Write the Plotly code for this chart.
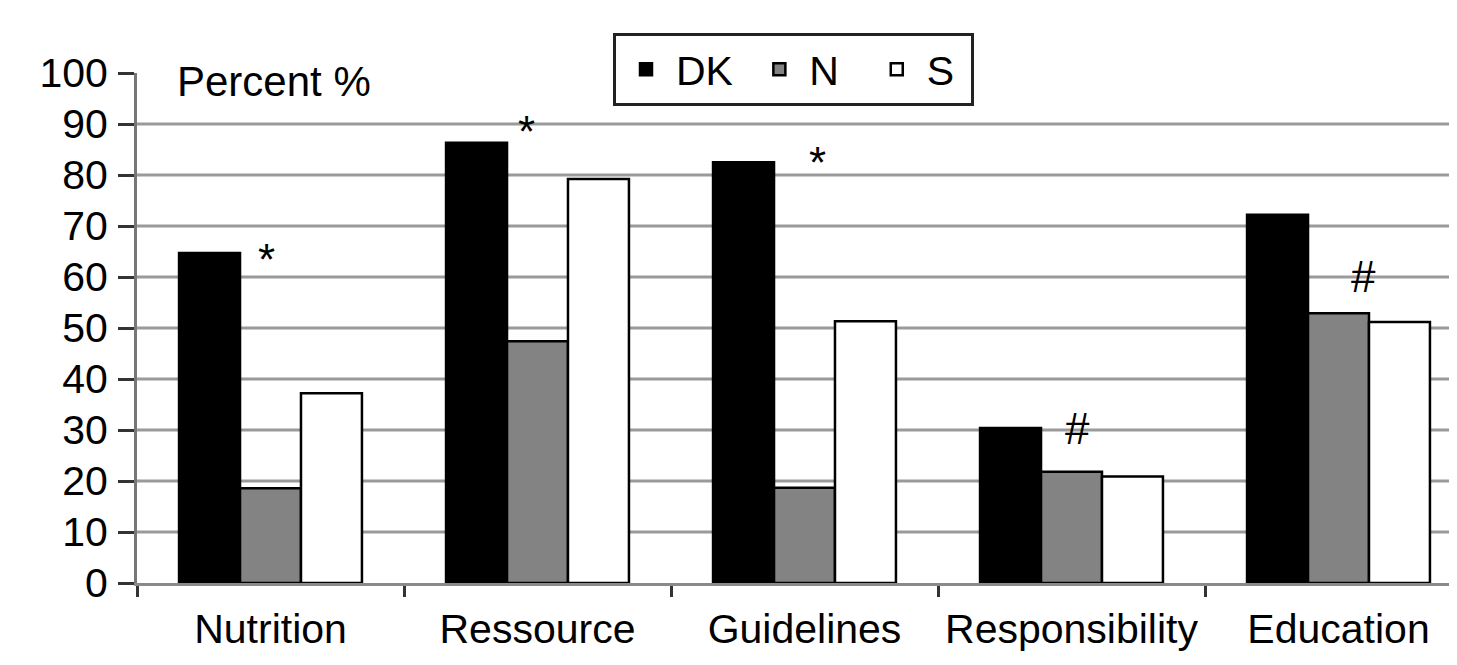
import plotly.graph_objects as go

categories = ["Nutrition", "Ressource", "Guidelines", "Responsibility", "Education"]
series_names = ["DK", "N", "S"]
dk_values = [64.7, 86.3, 82.5, 30.4, 72.2]
n_values = [18.6, 47.4, 18.7, 21.8, 52.9]
s_values = [37.2, 79.2, 51.3, 20.9, 51.2]
y_ticks = [0, 10, 20, 30, 40, 50, 60, 70, 80, 90, 100]
grid_values = [10, 20, 30, 40, 50, 60, 70, 80, 90]

# significance marks
marks_cat = ["Nutrition", "Ressource", "Guidelines", "Responsibility", "Education"]
marks_sym = ["*", "*", "*", "#", "#"]
marks_y = [63.4, 88.5, 82.4, 30.3, 60.1]
marks_dx = [-4, -11, 13, 6, 25]

FONT = "Liberation Sans, Arial, sans-serif"

fig = go.Figure()
colors = ["#000000", "#838383", "#ffffff"]
values = [dk_values, n_values, s_values]
pads = ["\u00a0", "\u00a0\u00a0", "\u00a0"]
for name, vals, col, pad in zip(series_names, values, colors, pads):
    fig.add_trace(go.Bar(
        name=name + pad, x=categories, y=vals,
        marker=dict(color=col, line=dict(color="#000000", width=2.5)),
    ))

for v in grid_values:
    fig.add_shape(type="line", xref="paper", x0=0, x1=1, yref="y", y0=v, y1=v,
                  line=dict(color="#9a9a9a", width=3), layer="below")

for c, s, yv, dx in zip(marks_cat, marks_sym, marks_y, marks_dx):
    fig.add_annotation(x=c, y=yv, text=s, showarrow=False, xshift=dx,
                       xanchor="center", yanchor="middle",
                       font=dict(family=FONT, size=44, color="#000000"))

fig.add_annotation(xref="paper", x=(175 - 137) / 1320, yref="y", y=98.3,
                   text="Percent %", showarrow=False, xanchor="left", yanchor="middle",
                   font=dict(family=FONT, size=42, color="#000000"))

# page body adds an 8px offset; figure sized so the plot lands where the reference has it
fig.update_layout(
    width=1449, height=657,
    margin=dict(l=129, r=0, t=65, b=82, pad=0),
    paper_bgcolor="white", plot_bgcolor="white",
    barmode="group", bargap=0.315, bargroupgap=0,
    font=dict(family=FONT, size=41, color="#000000"),
    legend=dict(orientation="h", x=(613 - 137) / 1320, xanchor="left",
                y=1 + (73 - 33) / 510, yanchor="top",
                bordercolor="#222222", borderwidth=3, bgcolor="white",
                font=dict(family=FONT, size=41, color="#000000"),
                itemwidth=50, traceorder="normal"),
    showlegend=True,
)
fig.update_xaxes(
    type="category", range=[-0.5, 4.5 - 15 / 267],
    showline=True, linecolor="#8a8a8a", linewidth=3,
    ticks="outside", tickson="boundaries", ticklen=11, tickwidth=3, tickcolor="#333333",
    showgrid=False, zeroline=False, ticklabelstandoff=8,
    tickfont=dict(family=FONT, size=41, color="#000000"),
)
fig.update_yaxes(
    range=[0, 100], tickvals=y_ticks, showgrid=False, zeroline=False,
    showline=True, linecolor="#777777", linewidth=3,
    ticks="outside", ticklen=16, tickwidth=3, tickcolor="#333333",
    ticklabelstandoff=2,
    tickfont=dict(family=FONT, size=41, color="#000000"),
)

fig.write_html("out.html")
